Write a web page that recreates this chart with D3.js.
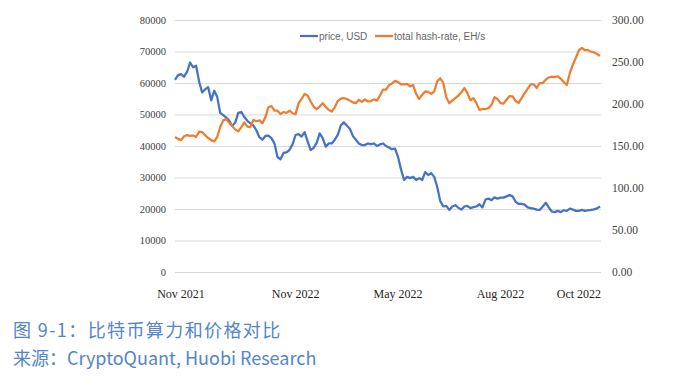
<!DOCTYPE html>
<html>
<head>
<meta charset="utf-8">
<script src="https://cdn.jsdelivr.net/npm/d3@7"></script>
<style>
  body { margin: 0; background: #fff; }
  svg { display: block; }
</style>
</head>
<body>
<svg id="chart" width="700" height="389"></svg>
<script>
// BTC price (USD) and total hash-rate (EH/s), sampled every ~3 days
const price = [
  61000, 62500, 62800, 62000, 63500, 66500, 65000, 65500, 60500, 57000,
  58000, 58700, 54500, 57500, 55600, 50500, 49800, 49000, 48000, 46300,
  47500, 50500, 50800, 49200, 48000, 47200, 46500, 45000, 42800, 42000,
  43200, 43300, 42500, 40800, 36500, 35800, 37800, 38000, 38800, 40500,
  43500, 43800, 43000, 44400, 41500, 38700, 39400, 41000, 44000, 42500,
  39800, 40800, 40800, 42000, 43500, 46500, 47500, 46500, 45500, 43200,
  42000, 40800, 40300, 40300, 40800, 40600, 40800, 40000, 40500, 40800,
  40000, 39500, 39000, 39200, 36500, 32500, 29200, 30200, 29800, 30200,
  29200, 29800, 29200, 31700, 30800, 31400, 30200, 27000, 22500, 20800,
  21000, 19700, 20800, 21200, 20400, 19800, 20800, 21000, 20300, 20600,
  20800, 21500, 20500, 23000, 23300, 22800, 23700, 23300, 23600, 23600,
  24000, 24400, 24000, 22300, 21600, 21600, 21400, 20500, 20300, 20100,
  19800, 19700, 20800, 22000, 20500, 19200, 19000, 19400, 19000, 19600,
  19400, 20100, 19800, 19400, 19400, 19700, 19400, 19600, 19700, 19900,
  20200, 20800
]
const hashRate = [
  160.7, 158.5, 157.0, 161.5, 163.0, 162.0, 162.5, 160.7, 167.0, 166.5,
  163.0, 159.5, 157.0, 155.5, 160.7, 172.6, 180.5, 182.0, 177.5, 174.0,
  169.5, 167.5, 172.5, 178.0, 173.0, 172.6, 181.0, 179.5, 180.5, 177.0,
  184.5, 196.4, 197.5, 192.0, 192.0, 188.0, 190.5, 189.5, 192.0, 189.0,
  188.0, 201.0, 206.0, 212.0, 210.0, 203.0, 197.0, 194.0, 197.0, 201.0,
  196.4, 193.0, 191.0, 196.0, 203.5, 206.5, 207.0, 206.0, 204.0, 202.0,
  201.0, 205.0, 202.5, 205.5, 203.0, 203.5, 205.5, 204.0, 210.0, 217.0,
  217.0, 222.6, 224.5, 227.5, 226.0, 223.5, 223.3, 224.0, 221.0, 222.6,
  212.0, 206.0, 211.0, 215.0, 214.5, 212.0, 215.0, 227.0, 230.5, 225.0,
  208.0, 201.0, 204.0, 207.0, 210.0, 214.0, 219.0, 213.0, 204.5, 207.0,
  201.0, 193.0, 194.0, 194.0, 195.0, 199.0, 208.0, 206.0, 201.0, 200.5,
  205.0, 209.5, 209.0, 203.5, 201.3, 207.0, 213.0, 218.0, 223.5, 223.5,
  219.0, 225.0, 225.0, 229.0, 231.5, 232.5, 232.0, 233.0, 230.0, 226.0,
  222.6, 237.0, 247.0, 255.0, 264.0, 266.7, 264.0, 264.0, 262.5, 261.5,
  259.5, 257.5
]
const xLabels = ['Nov 2021', 'Nov 2022', 'May 2022', 'Aug 2022', 'Oct 2022']
const xLabelAt = [2, 40, 74, 108, 134]
const leftTicks = [0, 10000, 20000, 30000, 40000, 50000, 60000, 70000, 80000]
const rightTicks = [0, 50, 100, 150, 200, 250, 300]
const seriesNames = ['price, USD', 'total hash-rate, EH/s']
const seriesColors = ['#4472C4', '#ED7D31']

function draw() {
  const svg = d3.select('#chart')
  const margin = { top: 20, right: 99, bottom: 117, left: 175 }
  const width = 700
  const height = 389
  const w = width - margin.left - margin.right
  const h = height - margin.top - margin.bottom

  const x = d3.scaleLinear().domain([0, price.length - 1]).range([0, w - 1])
  const yL = d3.scaleLinear().domain([0, 80000]).range([h, 0])
  const yR = d3.scaleLinear().domain([0, 300]).range([h, 0])

  const g = svg.append('g').attr('transform', `translate(${margin.left},${margin.top})`)

  // gridlines + left labels
  const left = g.append('g')
    .call(d3.axisLeft(yL).tickValues(leftTicks).tickSize(-w).tickPadding(9).tickFormat(d3.format('d')))
  left.select('.domain').remove()
  left.selectAll('line').attr('stroke', '#D9D9D9').attr('stroke-width', 1)
  left.selectAll('text')
    .attr('font-family', '"Liberation Serif", "Times New Roman", serif')
    .attr('font-size', 10.5).attr('fill', '#404040')

  const right = g.append('g')
    .attr('transform', `translate(${w},0)`)
    .call(d3.axisRight(yR).tickValues(rightTicks).tickSize(0).tickPadding(11).tickFormat(d3.format('.2f')))
  right.select('.domain').remove()
  right.selectAll('text')
    .attr('font-family', '"Liberation Serif", "Times New Roman", serif')
    .attr('font-size', 11.5).attr('fill', '#404040')

  // x labels
  g.append('g').selectAll('text')
    .data(xLabels)
    .join('text')
    .attr('x', (d, i) => x(xLabelAt[i]))
    .attr('y', h + 26)
    .attr('text-anchor', 'middle')
    .attr('font-family', '"Liberation Serif", "Times New Roman", serif')
    .attr('font-size', 12)
    .attr('fill', '#262626')
    .text(d => d)

  const linePrice = d3.line().x((d, i) => x(i)).y(d => yL(d))
  const lineHash = d3.line().x((d, i) => x(i)).y(d => yR(d))

  g.append('path')
    .datum(price)
    .attr('d', linePrice)
    .attr('fill', 'none')
    .attr('stroke', seriesColors[0])
    .attr('stroke-width', 2.25)
    .attr('stroke-linejoin', 'round')

  g.append('path')
    .datum(hashRate)
    .attr('d', lineHash)
    .attr('fill', 'none')
    .attr('stroke', seriesColors[1])
    .attr('stroke-width', 2.25)
    .attr('stroke-linejoin', 'round')

  // legend
  const legend = svg.append('g').attr('transform', 'translate(300,36)')
  const items = legend.selectAll('g')
    .data(seriesNames)
    .join('g')
    .attr('transform', (d, i) => `translate(${i * 75},0)`)
  items.append('line')
    .attr('x1', 0).attr('x2', 18)
    .attr('stroke', (d, i) => seriesColors[i])
    .attr('stroke-width', 2.25)
  items.append('text')
    .attr('x', 19)
    .attr('dy', '0.35em')
    .attr('font-family', '"Liberation Sans", Arial, sans-serif')
    .attr('font-size', 10)
    .attr('fill', '#666')
    .text(d => d)

  // caption
  const cap = svg.append('g')
    .attr('font-family', '"Noto Sans CJK SC", "Noto Sans", sans-serif')
    .attr('fill', '#5286C8')
    .attr('font-size', 18)
  cap.append('text').attr('x', 13).attr('y', 337).attr('letter-spacing', 1.4)
    .text('图 9-1：比特币算力和价格对比')
  cap.append('text').attr('x', 13).attr('y', 365).text('来源：CryptoQuant, Huobi Research')
}

draw()
</script>
</body>
</html>
